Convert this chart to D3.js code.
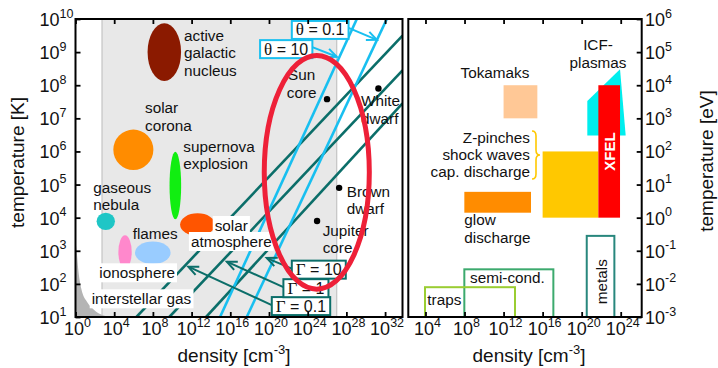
<!DOCTYPE html>
<html>
<head>
<meta charset="utf-8">
<script src="https://cdn.jsdelivr.net/npm/d3@7"></script>
<style>
body { margin: 0; background: #fff; }
svg { display: block; font-family: "Liberation Sans", Arial, Helvetica, sans-serif; }
</style>
</head>
<body>
<svg id="chart" width="718" height="368"></svg>
<script>
// ---- data (all values are log10 exponents) ----
var densityTicksLeft = [0, 4, 8, 12, 16, 20, 24, 28, 32];
var densityTicksRight = [4, 8, 12, 16, 20, 24];
var tempTicksK = [1, 2, 3, 4, 5, 6, 7, 8, 9, 10];
var tempTicksEV = [-3, -2, -1, 0, 1, 2, 3, 4, 5, 6];

// natural plasmas: centre and half-width in decades
var objNames = ["active galactic nucleus", "solar corona", "supernova explosion", "gaseous nebula", "solar atmosphere", "ionosphere", "flames"];
var objDensity = [9.18, 5.98, 10.32, 3.13, 12.62, 5.12, 7.99];
var objTemp = [9.0, 6.05, 4.97, 3.89, 3.79, 2.96, 2.94];
var objDensitySpread = [1.73, 2.07, 0.6, 0.95, 1.81, 0.69, 1.84];
var objTempSpread = [0.87, 0.61, 1.02, 0.26, 0.34, 0.51, 0.34];
var objColors = ["#8b1a00", "#ff8c00", "#11ee11", "#1fc6c6", "#ff5500", "#ff88cc", "#99ccff"];

// interstellar gas boundary
var ismDensity = [0, 0.1, 0.3, 0.6, 1.2, 1.9, 2.6, 3.4];
var ismTemp = [3.3, 3.05, 2.4, 1.85, 1.45, 1.22, 1.08, 1.0];

// stars / planets
var starNames = ["Sun core", "White dwarf", "Brown dwarf", "Jupiter core"];
var starDensity = [26.0, 31.31, 27.25, 24.97];
var starTemp = [7.58, 7.9, 4.9, 3.9];

// coupling and degeneracy lines [ [n, T], [n, T] ]
var gammaValues = ["0.1", "1", "10"];
var gammaLines = [[[6.3, 1], [33.8, 9.5]], [[9.7, 1], [33.8, 8.45]], [[13.5, 1], [33.8, 7.45]]];
var gammaBoxAt = [[20.29, 1.33], [21.49, 1.87], [22.36, 2.43]];
var gammaArrowTo = [[11.66, 2.52], [15.64, 2.67], [19.77, 2.78]];

var thetaValues = ["10", "0.1"];
var thetaLines = [[[14.94, 1], [29.08, 10]], [[17.7, 1], [32.18, 10]]];
var thetaBoxAt = [[19.08, 9.09], [22.36, 9.67]];
var thetaArrowTo = [[27.01, 8.86], [31.15, 9.37]];

var wdmRegion = [24.94, 5.37, 5.43, 3.53]; // centre n, T, half-widths
var shadedRange = [2.74, 27.0];

// lab plasmas (right panel, eV)
var labNames = ["Tokamaks", "Z-pinches", "XFEL", "glow discharge"];
var labDensity = [[12, 15.46], [16, 21.71], [21.71, 23.93], [7.98, 14.81]];
var labTemp = [[3, 4], [0, 2], [0, 4], [0.15, 0.78]];
var labColors = ["#ffc896", "#ffc800", "#ff0000", "#ff8c00"];
var icfDensity = [20.58, 23.93, 24.51, 20.58];
var icfTemp = [3.52, 4.48, 2.48, 2.48];

var solidNames = ["metals", "semi-cond.", "traps"];
var solidDensity = [[20.52, 23.35], [7.98, 17.1], [3.95, 13.17]];
var solidTemp = [[-3, -0.55], [-3, -1.56], [-3, -2.1]];
var solidColors = ["#28877d", "#3caa6e", "#9acd32"];

// ---- setup ----
var e10 = function(v) { return Math.pow(10, v); };
var svg = d3.select("#chart");
var font = 15.3;
var teal = "#0b6e69", cyan = "#18bff0";

var xL = d3.scaleLog().domain([e10(0), e10(33.8)]).range([75.5, 402.5]);
var yK = d3.scaleLog().domain([e10(1), e10(10)]).range([317, 19]);
var xR = d3.scaleLog().domain([e10(2.24), e10(26.15)]).range([408.3, 641.7]);
var yE = d3.scaleLog().domain([e10(-3), e10(6)]).range([317, 19]);

var px = function(d) { return xL(e10(d[0])); };
var py = function(d) { return yK(e10(d[1])); };

svg.append("clipPath").attr("id", "clipL").append("rect")
  .attr("x", 75.5).attr("y", 19).attr("width", 327).attr("height", 298);

var left = svg.append("g").attr("clip-path", "url(#clipL)");

// shaded band
left.append("rect")
  .attr("x", xL(e10(shadedRange[0]))).attr("y", 19)
  .attr("width", xL(e10(shadedRange[1])) - xL(e10(shadedRange[0]))).attr("height", 298)
  .attr("fill", "#e8e8e8");
shadedRange.forEach(function(v) {
  left.append("line")
    .attr("x1", xL(e10(v))).attr("x2", xL(e10(v)))
    .attr("y1", 19).attr("y2", 317)
    .attr("stroke", "#c4c4c4").attr("stroke-width", 1.2);
});

// interstellar gas
var ism = ismDensity.map(function(n, i) { return [n, ismTemp[i]]; });
left.append("path")
  .attr("d", d3.area().x(px).y0(317).y1(py).curve(d3.curveMonotoneX)(ism))
  .attr("fill", "#b4b4b4");

// ellipses
objNames.forEach(function(name, i) {
  var cx = xL(e10(objDensity[i])), cy = yK(e10(objTemp[i]));
  left.append("ellipse")
    .attr("cx", cx).attr("cy", cy)
    .attr("rx", xL(e10(objDensity[i] + objDensitySpread[i])) - cx)
    .attr("ry", cy - yK(e10(objTemp[i] + objTempSpread[i])))
    .attr("fill", objColors[i]);
});

// lines
var line = d3.line().x(px).y(py);
gammaLines.forEach(function(l) {
  left.append("path").attr("d", line(l)).attr("stroke", teal).attr("stroke-width", 2.6).attr("fill", "none");
});
thetaLines.forEach(function(l) {
  left.append("path").attr("d", line(l)).attr("stroke", cyan).attr("stroke-width", 2.6).attr("fill", "none");
});

// ---- text helpers ----
function label(g, lines, x, y, anchor, lh) {
  var t = g.append("text").attr("x", x).attr("y", y)
    .attr("font-size", font).attr("text-anchor", anchor || "start").attr("fill", "#111");
  lines.forEach(function(s, i) {
    t.append("tspan").attr("x", x).attr("dy", i === 0 ? 0 : (lh || 17.6)).text(s);
  });
  return t;
}
function whiteLabel(g, s, x, y, anchor) {
  var t = label(g, [s], x, y, anchor);
  var b = t.node().getBBox();
  g.insert("rect", function() { return t.node(); })
    .attr("x", b.x - 2).attr("y", b.y - 1).attr("width", b.width + 4).attr("height", b.height + 2)
    .attr("fill", "#fff");
}

var lab = svg.append("g");
label(lab, ["active", "galactic", "nucleus"], 184, 40.7);
label(lab, ["solar", "corona"], 145, 113);
label(lab, ["supernova", "explosion"], 183.3, 151.7);
label(lab, ["gaseous", "nebula"], 93.3, 192.7);
label(lab, ["flames"], 132.7, 239);
whiteLabel(lab, "solar", 231.3, 231, "middle");
whiteLabel(lab, "atmosphere", 231.3, 247, "middle");
whiteLabel(lab, "ionosphere", 99.3, 278.3);
whiteLabel(lab, "interstellar gas", 91.7, 304.3);

var starLabelPos = [[301.7, 80, "middle"], [361, 106, "start"], [346.7, 196.5, "start"], [322.7, 235.7, "start"]];
starNames.forEach(function(name, i) {
  svg.append("circle")
    .attr("cx", xL(e10(starDensity[i]))).attr("cy", yK(e10(starTemp[i])))
    .attr("r", 3.2).attr("fill", "#000");
  var p = starLabelPos[i];
  label(lab, name.split(" "), p[0], p[1], p[2]);
});

// ---- boxed labels with arrows ----
function arrow(g, x1, y1, x2, y2, color) {
  g.append("line").attr("x1", x1).attr("y1", y1).attr("x2", x2).attr("y2", y2)
    .attr("stroke", color).attr("stroke-width", 2);
  var a = Math.atan2(y2 - y1, x2 - x1), L = 11, w = 0.42;
  var head = [[x2 - L * Math.cos(a - w), y2 - L * Math.sin(a - w)], [x2, y2], [x2 - L * Math.cos(a + w), y2 - L * Math.sin(a + w)]];
  g.append("path").attr("d", d3.line()(head)).attr("stroke", color).attr("stroke-width", 2).attr("fill", "none");
}
function boxLabel(g, sym, val, at, color) {
  var x = px(at), y = py(at);
  var t = g.append("text").attr("x", x + 4).attr("y", y + 5.5).attr("font-size", 16).attr("fill", "#111");
  t.append("tspan").attr("font-family", "'Liberation Serif', 'DejaVu Serif', serif").attr("font-size", 17).text(sym);
  t.append("tspan").text(" = " + val);
  var b = t.node().getBBox();
  var w = b.width + 8;
  g.insert("rect", function() { return t.node(); })
    .attr("x", x).attr("y", y - 9).attr("width", w).attr("height", 18)
    .attr("fill", "#fff").attr("stroke", color).attr("stroke-width", 2);
  return {x: x, y: y, w: w};
}

var ann = svg.append("g");
gammaValues.forEach(function(v, i) {
  var to = gammaArrowTo[i];
  var b = boxLabel(ann, "\u0393", v, gammaBoxAt[i], teal);
  arrow(ann, b.x, b.y - 1, px(to), py(to), teal);
});
// redraw boxes over the arrows
ann.selectAll("rect, text").raise();

thetaValues.forEach(function(v, i) {
  var to = thetaArrowTo[i];
  var b = boxLabel(ann, "\u03b8", v, thetaBoxAt[i], cyan);
  arrow(ann, b.x + b.w, b.y - 2, px(to), py(to), cyan);
});

// warm dense matter ellipse
var wc = [xL(e10(wdmRegion[0])), yK(e10(wdmRegion[1]))];
svg.append("ellipse")
  .attr("cx", wc[0]).attr("cy", wc[1])
  .attr("rx", xL(e10(wdmRegion[0] + wdmRegion[2])) - wc[0])
  .attr("ry", wc[1] - yK(e10(wdmRegion[1] + wdmRegion[3])))
  .attr("fill", "none").attr("stroke", "#ee2038").attr("stroke-width", 5);

// ---- right panel ----
var right = svg.append("g");
right.append("rect")
  .attr("x", xR(e10(labDensity[0][0]))).attr("y", yE(e10(labTemp[0][1])))
  .attr("width", xR(e10(labDensity[0][1])) - xR(e10(labDensity[0][0])))
  .attr("height", yE(e10(labTemp[0][0])) - yE(e10(labTemp[0][1])))
  .attr("fill", labColors[0]);
right.append("path")
  .attr("d", d3.line()(icfDensity.map(function(n, i) { return [xR(e10(n)), yE(e10(icfTemp[i]))]; })) + "Z")
  .attr("fill", "#00eeee");
[1, 2, 3].forEach(function(i) {
  right.append("rect")
    .attr("x", xR(e10(labDensity[i][0]))).attr("y", yE(e10(labTemp[i][1])))
    .attr("width", xR(e10(labDensity[i][1])) - xR(e10(labDensity[i][0])))
    .attr("height", yE(e10(labTemp[i][0])) - yE(e10(labTemp[i][1])))
    .attr("fill", labColors[i]);
});
solidNames.forEach(function(name, i) {
  right.append("rect")
    .attr("x", xR(e10(solidDensity[i][0]))).attr("y", yE(e10(solidTemp[i][1])))
    .attr("width", xR(e10(solidDensity[i][1])) - xR(e10(solidDensity[i][0])))
    .attr("height", yE(e10(solidTemp[i][0])) - yE(e10(solidTemp[i][1])))
    .attr("fill", "none").attr("stroke", solidColors[i]).attr("stroke-width", 2);
});

label(right, ["Tokamaks"], 495, 78.3, "middle");
label(right, ["ICF-", "plasmas"], 598, 50, "middle");
label(right, ["Z-pinches", "shock waves", "cap. discharge"], 530, 142.7, "end", 17);
label(right, ["glow", "discharge"], 464.3, 225, "start", 18.3);
label(right, ["semi-cond."], 470, 283.3);
label(right, ["traps"], 427.3, 305);
right.append("text").attr("transform", "translate(606.5,281.7) rotate(-90)")
  .attr("text-anchor", "middle").attr("font-size", font).attr("fill", "#111").text("metals");
right.append("text").attr("transform", "translate(614.5,151.5) rotate(-90)")
  .attr("text-anchor", "middle").attr("font-size", 15).attr("font-weight", "bold").attr("fill", "#fff").text("XFEL");
right.append("path")
  .attr("d", "M532,131 Q536,131 536,136 L536,150 Q536,155 540,155 Q536,155 536,160 L536,174 Q536,179 532,179")
  .attr("fill", "none").attr("stroke", "#ffc800").attr("stroke-width", 1.6);

// ---- axes ----
function axis(g, ax) {
  g.call(ax.tickSizeInner(-5).tickSizeOuter(0).tickFormat(""));
  g.select(".domain").remove();
  g.selectAll(".tick line").attr("stroke", "#000").attr("stroke-width", 1.8);
}
var tickK = function(v) { return e10(v); };
axis(svg.append("g").attr("transform", "translate(0,317)"), d3.axisBottom(xL).tickValues(densityTicksLeft.map(tickK)));
axis(svg.append("g").attr("transform", "translate(0,19)"), d3.axisTop(xL).tickValues(densityTicksLeft.map(tickK)));
axis(svg.append("g").attr("transform", "translate(75.5,0)"), d3.axisLeft(yK).tickValues(tempTicksK.map(tickK)));
axis(svg.append("g").attr("transform", "translate(0,317)"), d3.axisBottom(xR).tickValues(densityTicksRight.map(tickK)));
axis(svg.append("g").attr("transform", "translate(0,19)"), d3.axisTop(xR).tickValues(densityTicksRight.map(tickK)));
axis(svg.append("g").attr("transform", "translate(641.7,0)"), d3.axisRight(yE).tickValues(tempTicksEV.map(tickK)));

[[75.5, 402.5], [408.3, 641.7]].forEach(function(r) {
  svg.append("rect").attr("x", r[0]).attr("y", 19).attr("width", r[1] - r[0]).attr("height", 298)
    .attr("fill", "none").attr("stroke", "#000").attr("stroke-width", 2);
});

function pow10(g, exp, x, y, anchor, up) {
  var t = g.append("text").attr("x", x).attr("y", y).attr("font-size", 18)
    .attr("text-anchor", anchor).attr("fill", "#111");
  t.append("tspan").text("10");
  t.append("tspan").attr("dy", -(up || 8.5)).attr("font-size", 12.5).text(exp);
  return t;
}
var tl = svg.append("g");
densityTicksLeft.forEach(function(v) { pow10(tl, v, xL(e10(v)) + 2, 334.5, "middle", 7.8); });
densityTicksRight.forEach(function(v) { pow10(tl, v, xR(e10(v)) + 2, 334.5, "middle", 7.8); });
tempTicksK.forEach(function(v) { pow10(tl, v, 39.5, yK(e10(v)) + 7, "start"); });
tempTicksEV.forEach(function(v) { pow10(tl, v, 645, yE(e10(v)) + 7, "start"); });

function densityTitle(x) {
  var t = svg.append("text").attr("x", x).attr("y", 362).attr("font-size", 19)
    .attr("text-anchor", "middle").attr("fill", "#111");
  t.append("tspan").text("density [cm");
  t.append("tspan").attr("dy", -8).attr("font-size", 13).text("-3");
  t.append("tspan").attr("dy", 8).text("]");
}
densityTitle(234);
densityTitle(529);
svg.append("text").attr("transform", "translate(24,162.5) rotate(-90)")
  .attr("text-anchor", "middle").attr("font-size", 19).attr("fill", "#111").text("temperature [K]");
svg.append("text").attr("transform", "translate(713,161) rotate(-90)")
  .attr("text-anchor", "middle").attr("font-size", 19).attr("fill", "#111").text("temperature [eV]");
</script>
</body>
</html>
